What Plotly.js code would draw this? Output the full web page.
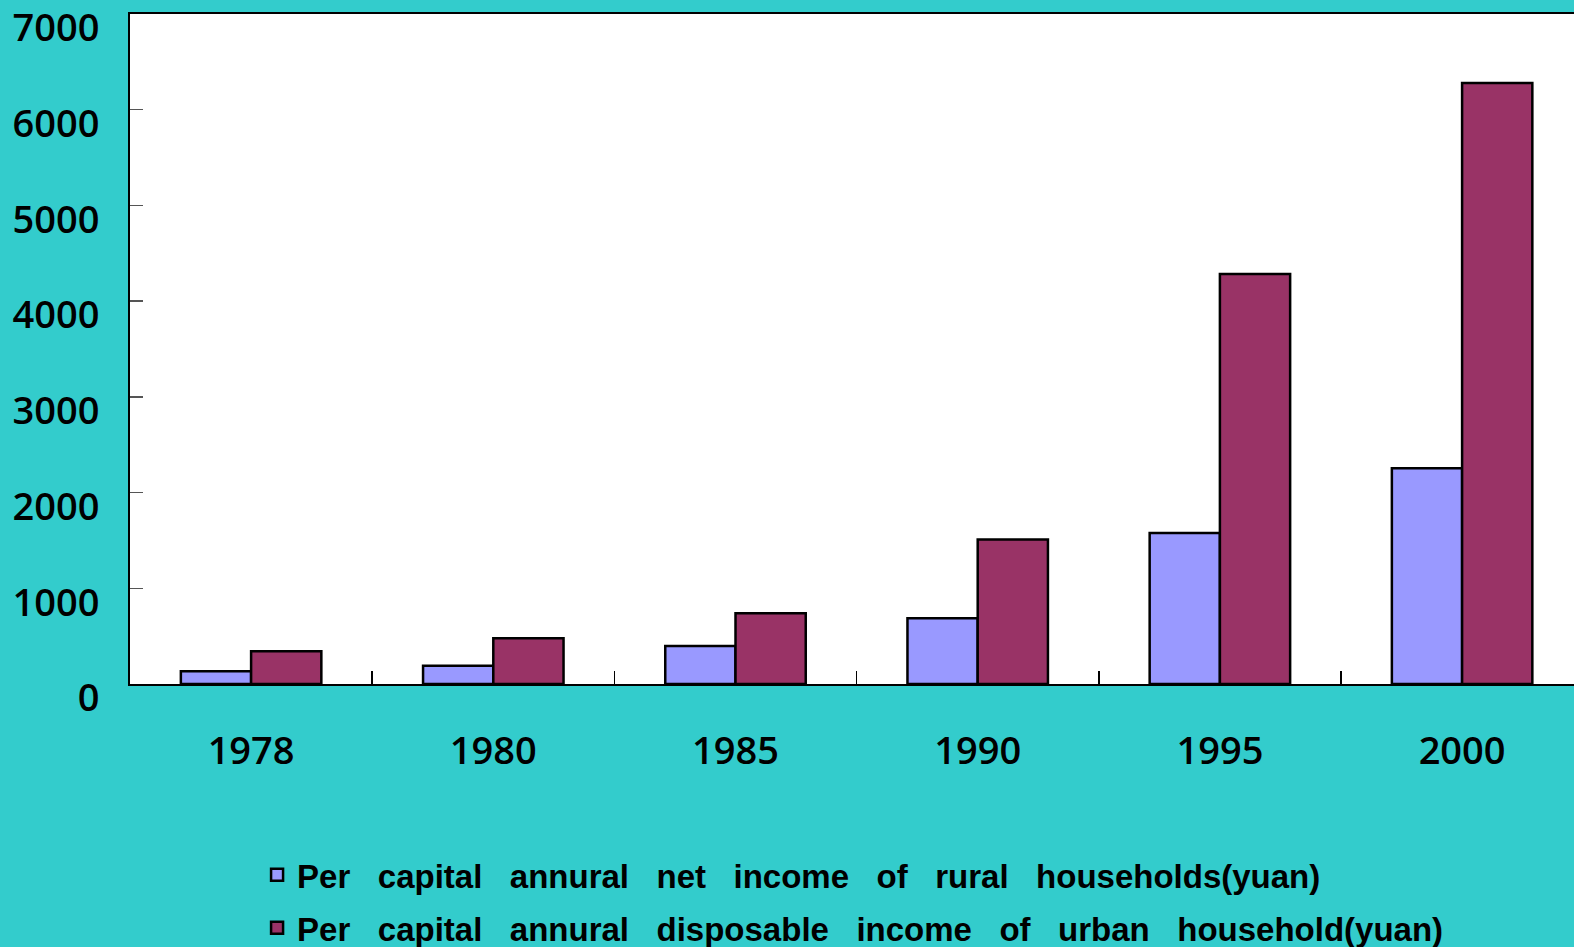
<!DOCTYPE html>
<html>
<head>
<meta charset="utf-8">
<script src="https://cdn.plot.ly/plotly-3.0.1.min.js"></script>
<style>html,body{margin:0;padding:0;background:#33CCCC;}#chart{width:1574px;height:947px;}</style>
</head>
<body>
<div id="chart"></div>
<script>
var years = ["1978", "1980", "1985", "1990", "1995", "2000"];
var ruralIncome = [133.6, 191.3, 397.6, 686.3, 1577.7, 2253.4];
var urbanIncome = [343.4, 477.6, 739.1, 1510.2, 4283.0, 6280.0];
var sp = "&nbsp;&nbsp;&nbsp;";
var ruralName = ["Per", "capital", "annural", "net", "income", "of", "rural", "households(yuan)"].join(sp);
var urbanName = ["Per", "capital", "annural", "disposable", "income", "of", "urban", "household(yuan)"].join(sp);
var yTicks = [0, 1000, 2000, 3000, 4000, 5000, 6000, 7000];

var traces = [
  {type: "bar", x: years, y: ruralIncome, name: ruralName, legend: "legend",
   marker: {color: "#9999FF", line: {color: "#000000", width: 2.5}}},
  {type: "bar", x: years, y: urbanIncome, name: urbanName, legend: "legend2",
   marker: {color: "#993366", line: {color: "#000000", width: 2.5}}}
];

var axisFont = {family: "Open Sans, Liberation Sans, sans-serif", size: 38, color: "#000000", weight: 600};
var legendFont = {family: "Liberation Sans Narrow, Liberation Sans, sans-serif", size: 33, color: "#000000", weight: 700};

var layout = {
  width: 1574, height: 947,
  paper_bgcolor: "#33CCCC",
  plot_bgcolor: "#FFFFFF",
  margin: {l: 130, r: 0, t: 14, b: 263, pad: 0, autoexpand: false},
  barmode: "group",
  bargap: 0.42,
  bargroupgap: 0,
  showlegend: true,
  xaxis: {
    type: "category",
    range: [-0.5, 5.462],
    showline: true, linecolor: "#000000", linewidth: 2, mirror: true,
    ticks: "inside", tickson: "boundaries", ticklen: 13, tickwidth: 1.5, tickcolor: "#000000",
    showgrid: false, zeroline: false,
    tickfont: axisFont,
    ticklabelstandoff: 32
  },
  yaxis: {
    range: [0, 7000],
    tickvals: yTicks,
    showline: true, linecolor: "#000000", linewidth: 2,
    ticks: "inside", ticklen: 13, tickwidth: 1.5, tickcolor: "#555555",
    showgrid: false, zeroline: false,
    tickfont: axisFont,
    ticklabeloverflow: "allow",
    ticklabelstandoff: 21,
    ticklabelshift: 14
  },
  legend: {
    x: 0.088, y: -0.243, xanchor: "left", yanchor: "top",
    bgcolor: "rgba(0,0,0,0)", font: legendFont, itemwidth: 30
  },
  legend2: {
    x: 0.088, y: -0.322, xanchor: "left", yanchor: "top",
    bgcolor: "rgba(0,0,0,0)", font: legendFont, itemwidth: 30
  }
};

Plotly.newPlot("chart", traces, layout, {displayModeBar: false, staticPlot: true});
</script>
</body>
</html>
